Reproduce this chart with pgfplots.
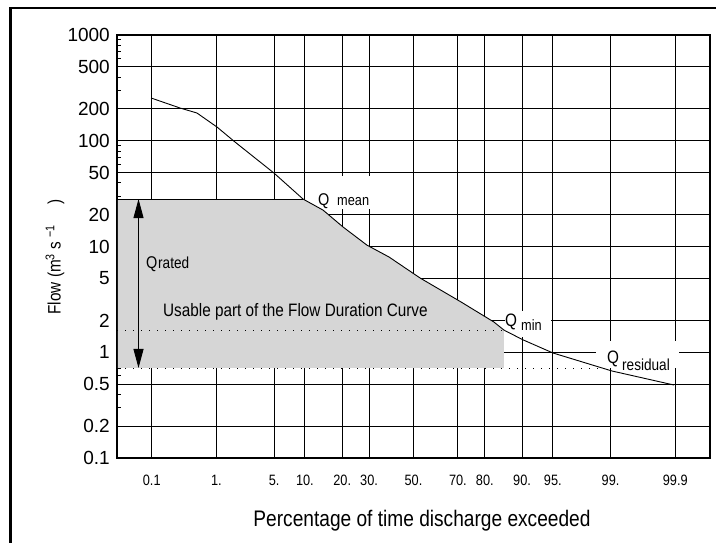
\documentclass[border=0pt]{standalone}
\usepackage{fontspec}
\setmainfont{Liberation Sans}[FakeStretch=0.85]
\newfontfamily\plainsans{Liberation Sans}
\usepackage{pgfplots}
\pgfplotsset{compat=1.18}
\usetikzlibrary{arrows.meta}
\newcommand{\fs}[1]{\fontsize{#1}{#1}\selectfont}
\definecolor{shade}{RGB}{214,214,214}
\begin{document}
\begin{tikzpicture}
\path[use as bounding box] (0pt,0pt) rectangle (716pt,-542pt);
\begin{axis}[
  at={(117pt,-458pt)}, anchor=south west,
  scale only axis, width=593pt, height=423pt,
  xmin=-3.5, xmax=3.5, ymode=log, ymin=0.1, ymax=1000,
  xtick={-3.09,-2.326,-1.645,-1.2816,-0.8416,-0.5244,0,0.5244,0.8416,1.2816,1.645,2.326,3.09},
  xticklabels={0.1,1.,5.,10.,20.,30.,50.,70.,80.,90.,95.,99.,99.9},
  ytick={0.1,0.2,0.5,1,2,5,10,20,50,100,200,500,1000},
  yticklabels={0.1,0.2,0.5,1,2,5,10,20,50,100,200,500,1000},
  minor ytick={0.3,0.4,0.6,0.7,0.8,0.9,3,4,6,7,8,9,30,40,60,70,80,90,300,400,600,700,800,900},
  grid=major, major grid style={black, line width=0.9pt},
  axis line style={black, line width=1.1pt},
  major tick length=0pt, minor tick length=3.5pt,
  minor tick style={black, line width=0.7pt},
  ytick pos=left, xtick pos=bottom,
  xticklabel style={font=\fs{15}, anchor=base, yshift=-27pt},
  yticklabel style={font=\plainsans\fs{19}, inner sep=0pt, xshift=-7pt},
  /pgf/number format/assume math mode=true,
]
% shaded usable part
\addplot[draw=none, fill=shade] coordinates {
  (-3.49,28.1) (-1.304,28.1) (-1.068,22.1) (-0.832,15.3) (-0.549,10.3)
  (-0.289,7.96) (0.077,5.04) (0.561,2.99) (0.950,1.93) (1.068,1.62)
  (1.068,0.71) (-3.49,0.71)};
% white label backgrounds
\fill[white] (rel axis cs:0.3474,0.6667) rectangle (rel axis cs:0.4300,0.5887);
\fill[white] (rel axis cs:0.6543,0.3475) rectangle (rel axis cs:0.7319,0.2861);
\fill[white] (rel axis cs:0.8078,0.2766) rectangle (rel axis cs:0.9477,0.2128);
% Q mean line
\addplot[black, line width=0.9pt] coordinates {(-3.5,28.1) (-1.304,28.1)};
% dotted lines
\addplot[black, line width=0.9pt, dash pattern=on 1pt off 7pt] coordinates {(-3.5,1.62) (1.068,1.62)};
\addplot[black, line width=0.9pt, dash pattern=on 1pt off 7pt] coordinates {(-3.5,0.71) (2.213,0.71)};
% flow duration curve
\addplot[black, line width=0.9pt] coordinates {
  (-3.098,253.8) (-2.756,204) (-2.556,183) (-2.320,134.9) (-2.107,97.3)
  (-1.647,49.5) (-1.304,28.1) (-1.068,22.1) (-0.832,15.3) (-0.549,10.3)
  (-0.289,7.96) (0.077,5.04) (0.561,2.99) (0.950,1.93) (1.068,1.62)
  (1.293,1.31) (1.647,0.984) (2.343,0.665) (3.075,0.490)};
% Q rated arrow
\draw[black, line width=0.9pt, {Triangle[length=19pt,width=10pt]}-{Triangle[length=19pt,width=10pt]}]
  (axis cs:-3.246,28.1) -- (axis cs:-3.246,0.71);
\end{axis}
% outer frame
\draw[black, line width=2.6pt] (10.5pt,-560pt) -- (10.5pt,-8pt) -- (730pt,-8pt);
% labels
\node[anchor=base, inner sep=0pt, font=\fs{22.5}] at (422pt,-526pt) {Percentage of time discharge exceeded};
\node[rotate=90, inner sep=0pt, font=\fs{18}] at (55pt,-257pt) {Flow (m\textsuperscript{3} s \textsuperscript{−1}\hspace{20pt})};
\node[anchor=base west, inner sep=0pt, font=\fs{18}] at (163pt,-316pt) {Usable part of the Flow Duration Curve};
\node[anchor=base west, inner sep=0pt, font=\fs{17}] at (146pt,-268pt) {Q};
\node[anchor=base west, inner sep=0pt, font=\fs{16}] at (158pt,-268pt) {rated};
\node[anchor=base west, inner sep=0pt, font=\fs{17}] at (318pt,-205pt) {Q};
\node[anchor=base west, inner sep=0pt, font=\fs{15}] at (337pt,-205pt) {mean};
\node[anchor=base west, inner sep=0pt, font=\fs{18}] at (505pt,-326pt) {Q};
\node[anchor=base west, inner sep=0pt, font=\fs{15}] at (521pt,-330pt) {min};
\node[anchor=base west, inner sep=0pt, font=\fs{18}] at (607pt,-363pt) {Q};
\node[anchor=base west, inner sep=0pt, font=\fs{16}] at (622pt,-370pt) {residual};
\end{tikzpicture}
\end{document}
